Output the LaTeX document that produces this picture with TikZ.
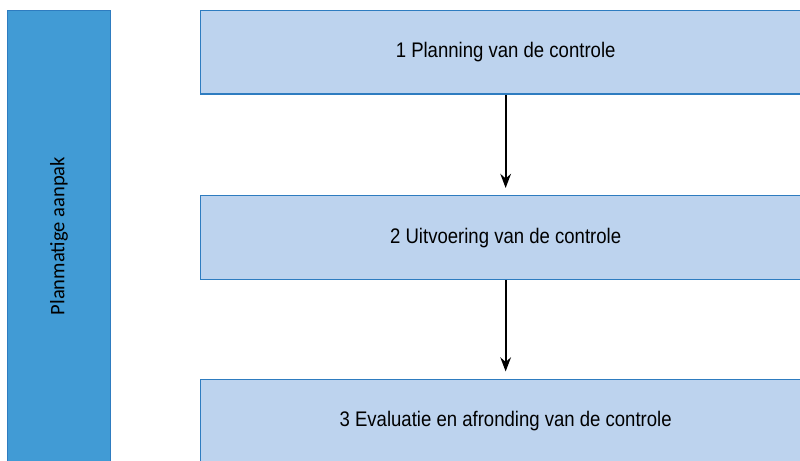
\documentclass[tikz,border=0pt]{standalone}
\usepackage{fontspec}
\setmainfont{Carlito}
\newfontfamily\narrowfont[FakeStretch=0.88]{Liberation Sans}
\usepackage{tikz}
\usetikzlibrary{arrows.meta,positioning}
\usepackage{xcolor}
\definecolor{barblue}{HTML}{419BD5}
\definecolor{boxblue}{HTML}{BDD3EE}
\definecolor{edgeblue}{HTML}{2E7CC0}

\begin{document}
\begin{tikzpicture}[x=0.02cm, y=-0.02cm,
  phase/.style={draw=edgeblue, line width=0.8pt, fill=boxblue, anchor=north west,
    minimum width=12.2cm, minimum height=1.68cm, inner sep=0pt,
    font=\narrowfont\fontsize{12}{14}\selectfont},
  flow/.style={-{Stealth[length=8pt, width=6pt]}, line width=1.3pt, shorten >=4pt}
]
\useasboundingbox (0,0) rectangle (800,460);
\node[draw=edgeblue, line width=0.8pt, fill=barblue, anchor=north west,
  minimum width=2.06cm, minimum height=9.6cm, inner sep=0pt] (approach) at (7,9.5) {};
\node[rotate=90, font=\fontsize{11.7}{13}\selectfont] (approachlabel) at (59,236) {Planmatige aanpak};

\node[phase] (planning) at (200,9.5) {1 Planning van de controle};
\node[phase] (execution) at (200,195) {2 Uitvoering van de controle};
\node[phase] (evaluation) at (200,378.5) {3 Evaluatie en afronding van de controle};

\draw[flow] (planning) -- (execution);
\draw[flow] (execution) -- (evaluation);
\end{tikzpicture}
\end{document}
